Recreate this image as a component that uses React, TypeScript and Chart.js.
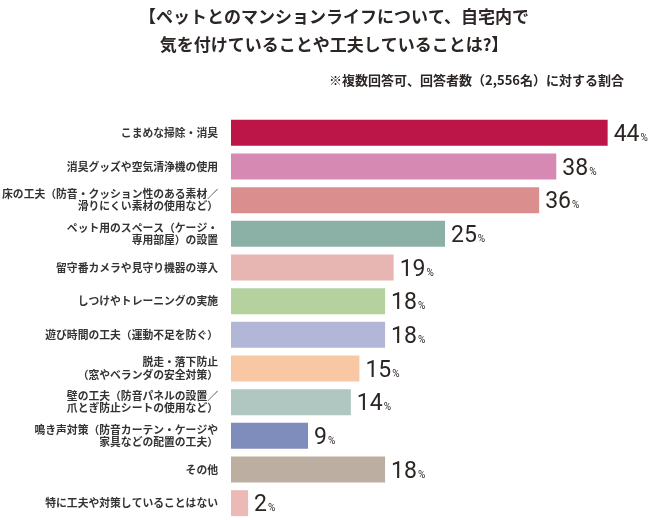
import { Chart, registerables, ChartConfiguration, Plugin } from "chart.js";
import { useEffect, useRef } from "react";

Chart.register(...registerables);

const titleLines = [
  "【ペットとのマンションライフについて、自宅内で",
  "気を付けていることや工夫していることは?】",
];
const noteText = "※複数回答可、回答者数（2,556名）に対する割合";

const categories: (string | string[])[] = [
  "こまめな掃除・消臭",
  "消臭グッズや空気清浄機の使用",
  ["床の工夫（防音・クッション性のある素材／", "滑りにくい素材の使用など）"],
  ["ペット用のスペース（ケージ・", "専用部屋）の設置"],
  "留守番カメラや見守り機器の導入",
  "しつけやトレーニングの実施",
  "遊び時間の工夫（運動不足を防ぐ）",
  ["脱走・落下防止", "（窓やベランダの安全対策）"],
  ["壁の工夫（防音パネルの設置／", "爪とぎ防止シートの使用など）"],
  ["鳴き声対策（防音カーテン・ケージや", "家具などの配置の工夫）"],
  "その他",
  "特に工夫や対策していることはない",
];

const percents = [44, 38, 36, 25, 19, 18, 18, 15, 14, 9, 18, 2];

const barColors = [
  "#bc1548",
  "#d589b3",
  "#da8f8e",
  "#8bb1a7",
  "#e8b6b2",
  "#b5d19d",
  "#b3b7d7",
  "#f7c8a3",
  "#b0c6c0",
  "#7f8dbd",
  "#bcafa1",
  "#ebb9b6",
];

const CJK = "'Noto Sans CJK JP', 'Noto Sans', sans-serif";
const TEXT = "#2b2523";

// title + note drawn on the canvas
const headerPlugin: Plugin = {
  id: "header",
  afterDraw(chart) {
    const ctx = chart.ctx;
    ctx.save();
    ctx.fillStyle = TEXT;
    ctx.textBaseline = "middle";
    ctx.textAlign = "center";
    ctx.font = `bold 17px ${CJK}`;
    ctx.fillText(titleLines[0], 334, 17);
    ctx.fillText(titleLines[1], 334, 45);
    ctx.textAlign = "right";
    ctx.font = `bold 13px ${CJK}`;
    ctx.fillText(noteText, 624, 80);
    ctx.restore();
  },
};

// "44%" style labels at the end of each bar
const valuePlugin: Plugin = {
  id: "values",
  afterDatasetsDraw(chart) {
    const ctx = chart.ctx;
    const meta = chart.getDatasetMeta(0);
    ctx.save();
    ctx.fillStyle = TEXT;
    ctx.textAlign = "left";
    ctx.textBaseline = "alphabetic";
    meta.data.forEach((bar, i) => {
      const x = bar.x + 6;
      const y = bar.y + 8;
      const num = String(percents[i]);
      ctx.font = "23px Roboto, sans-serif";
      ctx.fillText(num, x, y);
      const w = ctx.measureText(num).width;
      ctx.font = "10px Roboto, sans-serif";
      ctx.fillText("%", x + w + 1, y);
    });
    ctx.restore();
  },
};

const App: React.FC = () => {
  const canvasRef = useRef<HTMLCanvasElement | null>(null);
  const chartRef = useRef<Chart | null>(null);

  useEffect(() => {
    const config: ChartConfiguration<"bar"> = {
      type: "bar",
      data: {
        labels: categories,
        datasets: [
          {
            data: percents,
            backgroundColor: barColors,
            barPercentage: 0.77,
            categoryPercentage: 1,
          },
        ],
      },
      options: {
        indexAxis: "y",
        animation: false,
        responsive: true,
        maintainAspectRatio: false,
        layout: {
          padding: { top: 116, right: 9, bottom: 0, left: 0 },
        },
        scales: {
          x: {
            display: false,
            min: 0,
            max: 50,
          },
          y: {
            grid: { display: false },
            border: { display: false },
            afterFit: (scale: any) => {
              scale.width = 231;
              // no extra room for the end labels, the bands run to the bottom edge
              scale.paddingTop = 0;
              scale.paddingBottom = 0;
            },
            ticks: {
              padding: 5,
              color: "#333",
              font: { family: CJK, size: 10.8, weight: "bold", lineHeight: 1.15 },
            },
          },
        },
        plugins: {
          legend: { display: false },
          tooltip: { enabled: false },
        },
      },
      plugins: [headerPlugin, valuePlugin],
    };

    if (chartRef.current) {
      chartRef.current.destroy();
    }
    if (canvasRef.current) {
      chartRef.current = new Chart(canvasRef.current, config as ChartConfiguration);
    }

    return () => {
      if (chartRef.current) {
        chartRef.current.destroy();
        chartRef.current = null;
      }
    };
  }, []);

  return (
    <div
      style={{
        position: "fixed",
        left: 0,
        top: 0,
        width: 668,
        height: 520,
        background: "#fff",
      }}
    >
      <canvas ref={canvasRef} style={{ width: "100%", height: "100%" }} />
    </div>
  );
};

export default App;
